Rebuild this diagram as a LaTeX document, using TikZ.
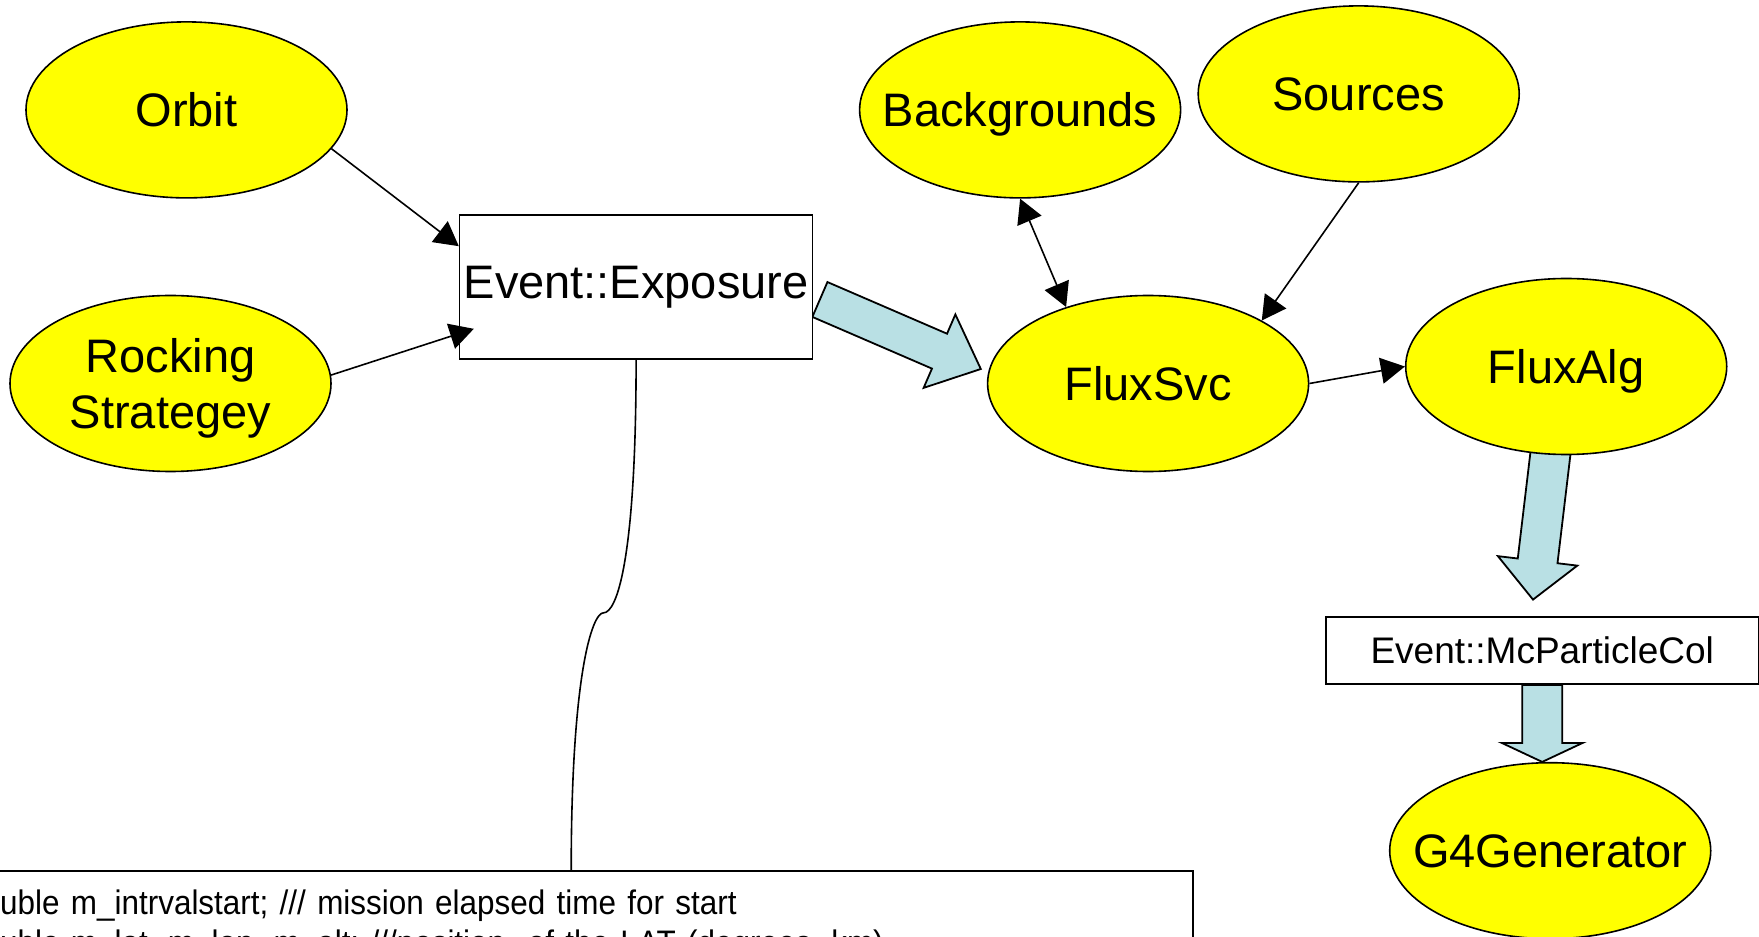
\documentclass[tikz,border=0pt]{standalone}
\usepackage{fontspec}
\setmainfont{Liberation Sans}
\newfontfamily\codefamily[FakeStretch=0.925]{Liberation Sans}
\usepackage{tikz}
\usetikzlibrary{positioning,shapes.geometric,arrows.meta,calc,backgrounds}

\definecolor{compyellow}{RGB}{255,255,0}
\definecolor{flowblue}{RGB}{185,224,228}
\newcommand{\labelfont}{\fontsize{23.5}{28}\selectfont}
\newcommand{\codefont}{\codefamily\fontsize{17}{20}\selectfont}
\newcommand{\lbl}[1]{\makebox[0pt]{#1}}

% wide hollow arrow: tail, tip, shaft half width, head half width, head length
\newcommand{\fatarrow}[5]{%
  \coordinate (neck) at ($(#2)!#5!(#1)$);
  \draw[bigflow] ($(#1)!#3!90:(#2)$) -- ($(neck)!#3!-90:(#1)$)
    -- ($(neck)!#4!-90:(#1)$) -- (#2) -- ($(neck)!#4!90:(#1)$)
    -- ($(neck)!#3!90:(#1)$) -- ($(#1)!#3!-90:(#2)$) -- cycle;
}

\tikzset{
  comp/.style={ellipse, draw, line width=0.8pt, fill=compyellow, minimum width=160.5pt,
    minimum height=88pt, inner sep=0pt, text depth=0pt, font=\labelfont, align=center},
  obj/.style={rectangle, draw, line width=0.8pt, fill=white, inner sep=0pt},
  codebox/.style={rectangle, draw, line width=0.8pt, fill=white, text width=606pt,
    inner xsep=8pt, inner ysep=9.6pt, align=left, font=\codefont},
  link/.style={line width=0.8pt, >={Triangle[length=12pt,width=13pt]}},
  bigflow/.style={draw, line width=0.9pt, fill=flowblue, line join=miter},
}

\begin{document}
\begin{tikzpicture}

  % Page frame
  \useasboundingbox (-85.25pt,191.75pt) rectangle (794.25pt,-276.25pt);
  \clip (-85.25pt,191.75pt) rectangle (794.25pt,-276.25pt);

  % Define nodes
  \node[comp]                                      (rock)  {Rocking\\Strategey};
  \node[comp, above=48pt of rock, xshift=8pt]      (orbit) {Orbit};
  \node[obj, right=63.5pt of rock, yshift=48.25pt, minimum width=176.5pt,
    minimum height=72pt, font=\labelfont]          (expo)  {Event::Exposure};
  \node[comp, right=327.5pt of rock]               (flux)  {FluxSvc};
  \node[comp, right=255.5pt of orbit]              (back)  {\lbl{Backgrounds}};
  \node[comp, right=8pt of back, yshift=8pt]       (src)   {Sources};
  \node[comp, right=47.75pt of flux, yshift=8.5pt] (alg)   {FluxAlg};
  \node[obj, below=80.5pt of alg, xshift=-12pt, minimum width=216.5pt,
    minimum height=33.5pt, font=\fontsize{18.5}{22}\selectfont] (mcp) {Event::McParticleCol};
  \node[comp, below=38.5pt of mcp, xshift=4pt]     (g4)    {\lbl{G4Generator}};
  \node[codebox, anchor=north east] (code) at (511.75pt,-243.25pt)
    {double m\_intrvalstart; /// mission elapsed time for start\\
     double m\_lat, m\_lon, m\_alt; ///position \ of the LAT (degrees, km)};

  % Data flow
  \coordinate (expo-out) at ($(expo.east)+(3.25pt,-6.25pt)$);
  \coordinate (flux-in)  at ($(flux.west)+(-3pt,7.25pt)$);
  \coordinate (alg-out)  at ($(alg.south)+(-6.75pt,10.5pt)$);
  \coordinate (mcp-in)   at ($(mcp.north)+(-4.6pt,8.35pt)$);
  \coordinate (g4-in)    at (mcp.south |- g4.north);
  \begin{scope}[on background layer]
    \fatarrow{expo-out}{flux-in}{9.5pt}{20pt}{22.5pt}
    \fatarrow{alg-out}{mcp-in}{10pt}{20pt}{19.5pt}
    \fatarrow{mcp.south}{g4-in}{10pt}{20.25pt}{9.5pt}
  \end{scope}

  % Connect the nodes
  \draw[link, ->] (orbit.-15) -- ($(expo.north west)+(0,-16pt)$);
  \draw[link, ->] (rock.3) -- ($(expo.south west)+(7.5pt,15.5pt)$);
  \draw[link, <->] (back.south) -- (flux.137);
  \draw[link, ->] (src.south) -- (flux.29);
  \draw[link, ->] (flux.east) -- (alg.west);

  % Callout down to the member list
  \coordinate (kink) at ($(expo.south)+(-16.25pt,-126.5pt)$);
  \draw[link] (expo.south) .. controls +(0,-100.5pt) and +(6.5pt,0) .. (kink)
    .. controls +(-6pt,0) and +(0,96pt) .. (code.north);

\end{tikzpicture}
\end{document}
